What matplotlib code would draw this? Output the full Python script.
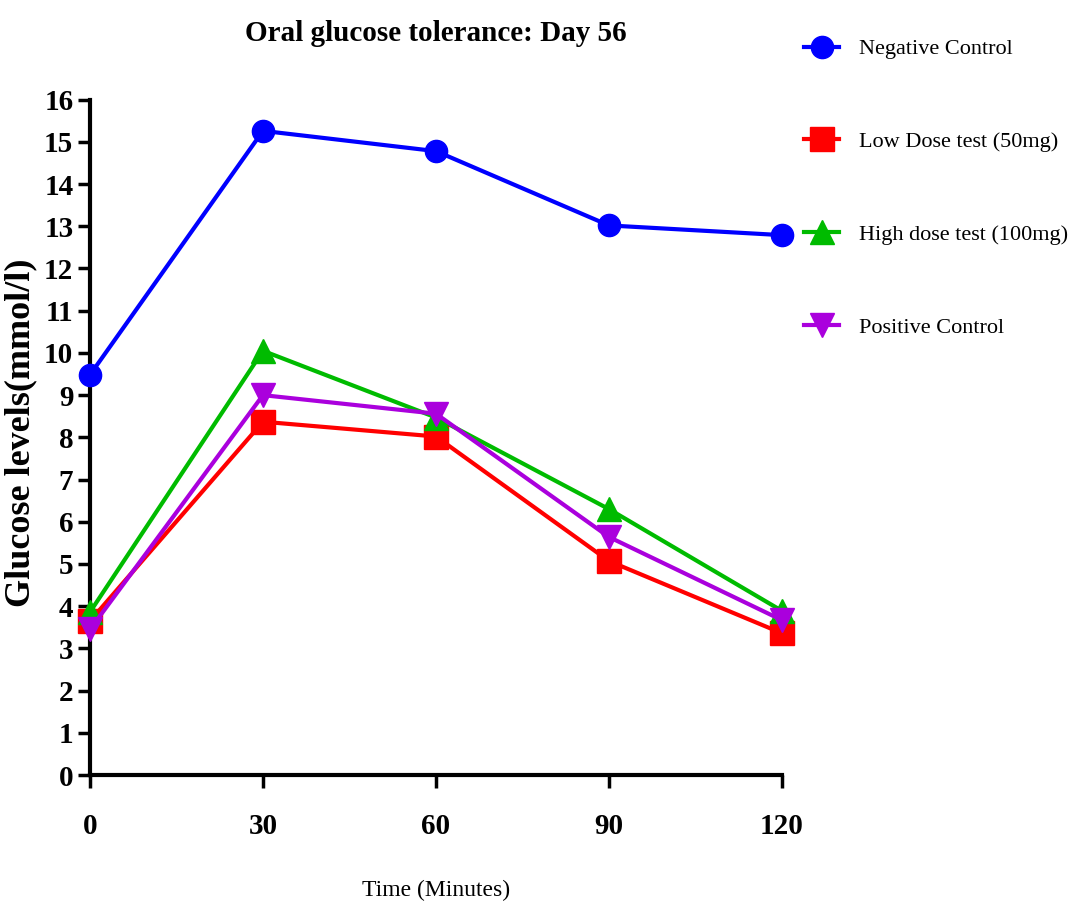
import numpy as np
import matplotlib.pyplot as plt

time = [0, 30, 60, 90, 120]
negative = [9.48, 15.26, 14.78, 13.02, 12.79]
low_dose = [3.65, 8.37, 8.02, 5.07, 3.36]
high_dose = [3.86, 10.05, 8.47, 6.30, 3.89]
positive = [3.45, 9.00, 8.56, 5.64, 3.67]

labels = ["Negative Control", "Low Dose test (50mg)", "High dose test (100mg)", "Positive Control"]
colors = ["#0000ff", "#ff0000", "#00bb00", "#aa00dd"]
markers = ["o", "s", "^", "v"]

plt.rcParams['font.family'] = ['Liberation Serif', 'DejaVu Serif']

fig = plt.figure(figsize=(10.88, 9.14), dpi=100)
ax = fig.add_axes([0.0827, 0.152, 0.636, 0.739])

for vals, lab, c, m in zip([negative, low_dose, high_dose, positive], labels, colors, markers):
    ms = 17 if m != "o" else 16
    ax.plot(time, vals, color=c, marker=m, markersize=ms, linewidth=3, label=lab,
            clip_on=False, zorder=3)

ax.set_xlim(0, 120)
ax.set_ylim(0, 16)
ax.set_xticks(time)
ax.set_yticks(np.arange(0, 17, 1))
for s in ["top", "right"]:
    ax.spines[s].set_visible(False)
for s in ["left", "bottom"]:
    ax.spines[s].set_linewidth(3)
ax.tick_params(direction="out", length=9, width=2.5, labelsize=21, pad=3)
ax.tick_params(axis="x", pad=18)
for t in ax.get_xticklabels() + ax.get_yticklabels():
    t.set_fontweight("bold")

ax.set_title("Oral glucose tolerance: Day 56", fontsize=21, fontweight="bold", pad=42)
ax.set_xlabel("Time (Minutes)", fontsize=17)
ax.xaxis.set_label_coords(0.5, -0.155)
ax.set_ylabel("Glucose levels(mmol/l)", fontsize=26, fontweight="bold")
ax.yaxis.set_label_coords(-0.076, 0.507)

fig.legend(loc="upper left", bbox_to_anchor=(795 / 1088, 1 - 30 / 914), frameon=False, fontsize=16,
           labelspacing=3.25, handlelength=1.6, handletextpad=0.9, borderaxespad=0)

fig.savefig("out.png", dpi=100)
